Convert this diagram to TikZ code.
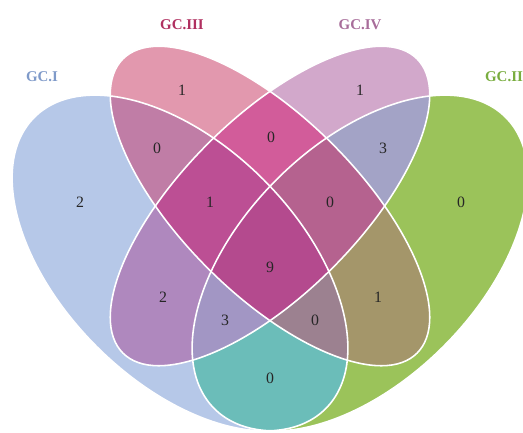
\documentclass[tikz,border=0pt]{standalone}
\usepackage{fontspec}
\setmainfont{Liberation Serif}
% region colours
\definecolor{fillI}{HTML}{B6C8E8}
\definecolor{fillII}{HTML}{9BC35A}
\definecolor{fillIII}{HTML}{E298AE}
\definecolor{fillIV}{HTML}{D2A8CB}
\definecolor{fillIxII}{HTML}{6BBDB9}
\definecolor{fillIxIII}{HTML}{C07DA6}
\definecolor{fillIxIV}{HTML}{AF88BE}
\definecolor{fillIIxIII}{HTML}{A4966A}
\definecolor{fillIIxIV}{HTML}{A3A3C6}
\definecolor{fillIIIxIV}{HTML}{D25C9A}
\definecolor{fillIxIIxIII}{HTML}{9C8190}
\definecolor{fillIxIIxIV}{HTML}{A296C4}
\definecolor{fillIxIIIxIV}{HTML}{BC4F94}
\definecolor{fillIIxIIIxIV}{HTML}{B5628F}
\definecolor{fillall}{HTML}{B44A8E}
% label colours
\definecolor{labI}{HTML}{7F9AC9}
\definecolor{labII}{HTML}{79AD3F}
\definecolor{labIII}{HTML}{B03060}
\definecolor{labIV}{HTML}{A86D9A}
\tikzset{
  gcone/.style={shift={(180,263)}, rotate=-45},
  gctwo/.style={shift={(360,263)}, rotate=45},
  gcthree/.style={shift={(270,206)}, rotate=-45},
  gcfour/.style={shift={(270,206)}, rotate=45},
  vennline/.style={draw=white, line width=0.9pt},
  setlabel/.style={font=\fontsize{8.5}{10}\selectfont\bfseries},
  count/.style={font=\fontsize{9}{11}\selectfont, text=black!85}
}
\newcommand{\outerell}{(0,0) ellipse [x radius=206, y radius=118]}
\newcommand{\innerell}{(0,0) ellipse [x radius=208, y radius=88]}
\begin{document}
\begin{tikzpicture}[x=0.02cm, y=-0.02cm]
  \useasboundingbox (0,0) rectangle (523,432);
  % single sets
  \fill[fillI, gcone] \outerell;
  \fill[fillII, gctwo] \outerell;
  \fill[fillIII, gcthree] \innerell;
  \fill[fillIV, gcfour] \innerell;
  % two sets
  \begin{scope}\clip[gcone] \outerell; \fill[fillIxII, gctwo] \outerell; \end{scope}
  \begin{scope}\clip[gcone] \outerell; \fill[fillIxIII, gcthree] \innerell; \end{scope}
  \begin{scope}\clip[gcone] \outerell; \fill[fillIxIV, gcfour] \innerell; \end{scope}
  \begin{scope}\clip[gctwo] \outerell; \fill[fillIIxIII, gcthree] \innerell; \end{scope}
  \begin{scope}\clip[gctwo] \outerell; \fill[fillIIxIV, gcfour] \innerell; \end{scope}
  \begin{scope}\clip[gcthree] \innerell; \fill[fillIIIxIV, gcfour] \innerell; \end{scope}
  % three sets
  \begin{scope}\clip[gcone] \outerell; \clip[gctwo] \outerell; \fill[fillIxIIxIII, gcthree] \innerell; \end{scope}
  \begin{scope}\clip[gcone] \outerell; \clip[gctwo] \outerell; \fill[fillIxIIxIV, gcfour] \innerell; \end{scope}
  \begin{scope}\clip[gcone] \outerell; \clip[gcthree] \innerell; \fill[fillIxIIIxIV, gcfour] \innerell; \end{scope}
  \begin{scope}\clip[gctwo] \outerell; \clip[gcthree] \innerell; \fill[fillIIxIIIxIV, gcfour] \innerell; \end{scope}
  % all four
  \begin{scope}\clip[gcone] \outerell; \clip[gctwo] \outerell; \clip[gcthree] \innerell; \fill[fillall, gcfour] \innerell; \end{scope}
  % outlines
  \draw[vennline, gcone] \outerell;
  \draw[vennline, gctwo] \outerell;
  \draw[vennline, gcthree] \innerell;
  \draw[vennline, gcfour] \innerell;
  % set names
  \node[setlabel, text=labI] (nameI) at (42,77) {GC.I};
  \node[setlabel, text=labIII] (nameIII) at (182,25) {GC.III};
  \node[setlabel, text=labIV] (nameIV) at (360,25) {GC.IV};
  \node[setlabel, text=labII] (nameII) at (504,77) {GC.II};
  % counts
  \node[count] (onlyI) at (80,202) {2};
  \node[count] (onlyII) at (461,202) {0};
  \node[count] (onlyIII) at (182,90) {1};
  \node[count] (onlyIV) at (360,90) {1};
  \node[count] (IIIxIV) at (271,137) {0};
  \node[count] (IxIII) at (157,148) {0};
  \node[count] (IIxIV) at (383,148) {3};
  \node[count] (IxIIIxIV) at (210,202) {1};
  \node[count] (IIxIIIxIV) at (330,202) {0};
  \node[count] (allfour) at (270,267) {9};
  \node[count] (IxIV) at (163,297) {2};
  \node[count] (IIxIII) at (378,297) {1};
  \node[count] (IxIIxIV) at (225,320) {3};
  \node[count] (IxIIxIII) at (315,320) {0};
  \node[count] (IxII) at (270,378) {0};
\end{tikzpicture}
\end{document}
